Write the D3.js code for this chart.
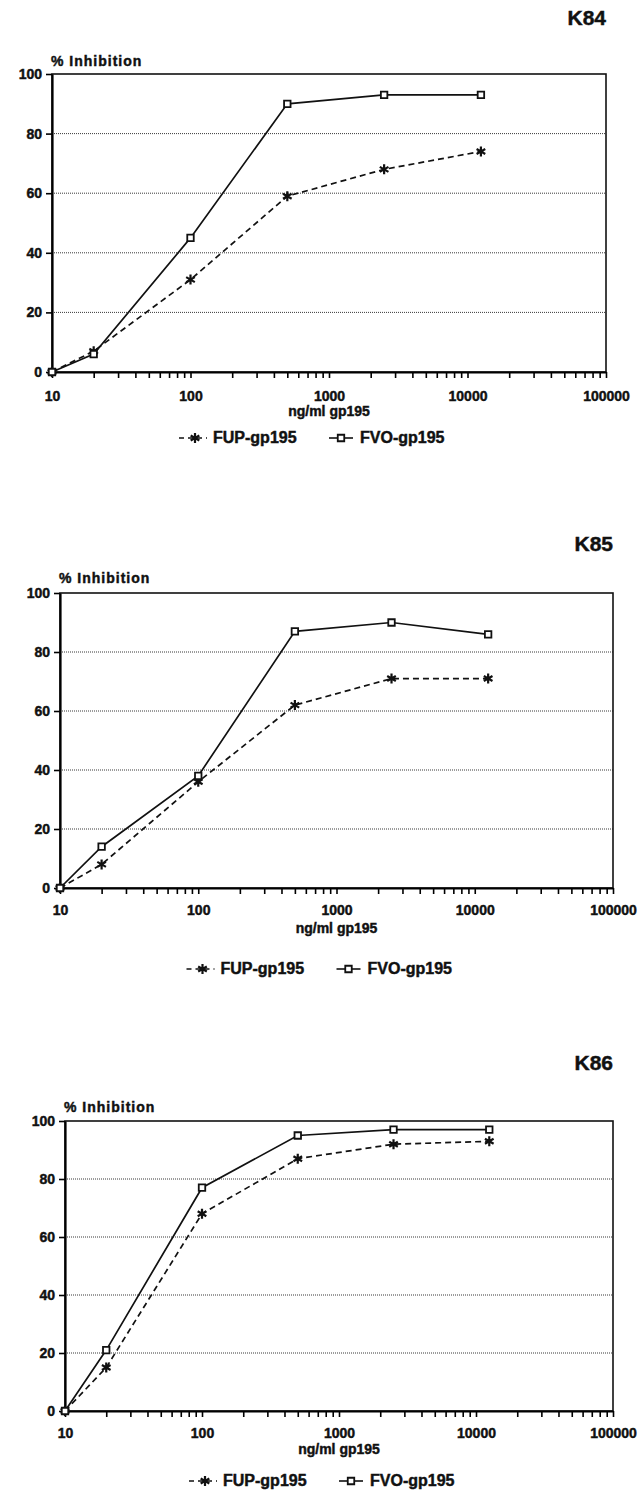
<!DOCTYPE html>
<html>
<head>
<meta charset="utf-8">
<script src="https://cdn.jsdelivr.net/npm/d3@7"></script>
<style>
  body { margin: 0; background: #fff; }
  svg { display: block; }
  text { font-family: "Liberation Sans", Arial, sans-serif; font-weight: bold; fill: #111;
         stroke: #111; stroke-width: 0.45px; }
</style>
</head>
<body>
<svg width="641" height="1493"></svg>
<script>
// concentrations (ng/ml gp195)
var doses = [10, 20, 100, 500, 2500, 12500];

var k84_fup = [0, 7, 31, 59, 68, 74];
var k84_fvo = [0, 6, 45, 90, 93, 93];

var k85_fup = [0, 8, 36, 62, 71, 71];
var k85_fvo = [0, 14, 38, 87, 90, 86];

var k86_fup = [0, 15, 68, 87, 92, 93];
var k86_fvo = [0, 21, 77, 95, 97, 97];

var yTicks = [0, 20, 40, 60, 80, 100];
var xLabels = [10, 100, 1000, 10000, 100000];
var seriesNames = ["FUP-gp195", "FVO-gp195"];

var svg = d3.select("svg");

// layout for each of the three panels
var panels = [
  {name: "K84", fup: k84_fup, fvo: k84_fvo, left: 52, right: 606, top: 74, bottom: 372,
   titleY: 25, yLabY: 66, tickY: 401, xTitleY: 416, legY: 443},
  {name: "K85", fup: k85_fup, fvo: k85_fvo, left: 60, right: 613, top: 593, bottom: 888,
   titleY: 551, yLabY: 583, tickY: 915, xTitleY: 933, legY: 974},
  {name: "K86", fup: k86_fup, fvo: k86_fvo, left: 65, right: 613, top: 1121, bottom: 1411,
   titleY: 1070, yLabY: 1112, tickY: 1438, xTitleY: 1454, legY: 1486}
];

var minorTicks = [];
for (var e = 1; e <= 4; e++) {
  for (var m = 1; m <= 9; m++) minorTicks.push(m * Math.pow(10, e));
}
minorTicks.push(100000);

panels.forEach(drawPanel);

function drawPanel(p) {
  var x = d3.scaleLog().domain([10, 100000]).range([p.left, p.right]);
  var y = d3.scaleLinear().domain([0, 100]).range([p.bottom, p.top]);
  var g = svg.append("g");

  // dotted gridlines
  g.selectAll(".grid")
    .data(yTicks.filter(function(d) { return d > 0 && d < 100; }))
    .enter().append("line")
    .attr("x1", p.left).attr("x2", p.right)
    .attr("y1", function(d) { return y(d); })
    .attr("y2", function(d) { return y(d); })
    .attr("stroke", "#222")
    .attr("stroke-width", 0.9)
    .attr("stroke-dasharray", "1,1");

  // box
  g.append("rect")
    .attr("x", p.left).attr("y", p.top)
    .attr("width", p.right - p.left).attr("height", p.bottom - p.top)
    .attr("fill", "none").attr("stroke", "#111").attr("stroke-width", 1.6);

  // y axis
  var yAxis = g.append("g")
    .attr("transform", "translate(" + p.left + ",0)")
    .call(d3.axisLeft(y).tickValues(yTicks).tickSize(6).tickSizeOuter(0).tickPadding(4));
  yAxis.select(".domain").attr("stroke-width", 2.2);
  yAxis.selectAll(".tick line").attr("stroke-width", 1.6);
  yAxis.selectAll("text").style("font-size", "14px").attr("fill", "#111");

  // x axis
  var xAxis = g.append("g")
    .attr("transform", "translate(0," + p.bottom + ")")
    .call(d3.axisBottom(x).tickValues(minorTicks).tickSize(6).tickSizeOuter(0).tickPadding(14)
      .tickFormat(function(d) { return xLabels.indexOf(d) >= 0 ? d : ""; }));
  xAxis.select(".domain").attr("stroke-width", 2.2);
  xAxis.selectAll(".tick line").attr("stroke-width", 1.6);
  xAxis.selectAll("text").style("font-size", "14px").attr("fill", "#111")
    .attr("dy", null).attr("y", p.tickY - p.bottom);

  // titles
  svg.append("text").attr("x", p.right).attr("y", p.titleY)
    .attr("text-anchor", "end").style("font-size", "21px").text(p.name);
  svg.append("text").attr("x", p.left - 1).attr("y", p.yLabY)
    .style("font-size", "14px").style("letter-spacing", "1px").text("% Inhibition");
  svg.append("text").attr("x", (p.left + p.right) / 2).attr("y", p.xTitleY)
    .attr("text-anchor", "middle").style("font-size", "14px").text("ng/ml gp195");

  var line = d3.line()
    .x(function(d) { return x(d[0]); })
    .y(function(d) { return y(d[1]); });

  var fupPts = doses.map(function(d, i) { return [d, p.fup[i]]; });
  var fvoPts = doses.map(function(d, i) { return [d, p.fvo[i]]; });

  g.append("path").datum(fupPts).attr("d", line)
    .attr("fill", "none").attr("stroke", "#111").attr("stroke-width", 1.7)
    .attr("stroke-dasharray", "6,4");
  g.append("path").datum(fvoPts).attr("d", line)
    .attr("fill", "none").attr("stroke", "#111").attr("stroke-width", 1.7);

  var star = d3.symbol().type(d3.symbolAsterisk).size(70);
  var square = d3.symbol().type(d3.symbolSquare).size(42);

  g.selectAll(".fup").data(fupPts).enter().append("path")
    .attr("transform", function(d) { return "translate(" + x(d[0]) + "," + y(d[1]) + ")"; })
    .attr("d", star).attr("fill", "none").attr("stroke", "#111").attr("stroke-width", 2.2);
  g.selectAll(".fvo").data(fvoPts).enter().append("path")
    .attr("transform", function(d) { return "translate(" + x(d[0]) + "," + y(d[1]) + ")"; })
    .attr("d", square).attr("fill", "#fff").attr("stroke", "#111").attr("stroke-width", 1.8);

  // legend
  var cx = (p.left + p.right) / 2;
  var ly = p.legY - 5;
  var leg = svg.append("g");
  leg.append("line").attr("x1", cx - 150).attr("x2", cx - 122).attr("y1", ly).attr("y2", ly)
    .attr("stroke", "#111").attr("stroke-width", 1.6).attr("stroke-dasharray", "5,4");
  leg.append("path").attr("transform", "translate(" + (cx - 134) + "," + ly + ")")
    .attr("d", star).attr("fill", "none").attr("stroke", "#111").attr("stroke-width", 2.2);
  leg.append("text").attr("x", cx - 116).attr("y", p.legY)
    .style("font-size", "16px").text(seriesNames[0]);
  leg.append("line").attr("x1", cx).attr("x2", cx + 24).attr("y1", ly).attr("y2", ly)
    .attr("stroke", "#111").attr("stroke-width", 1.6);
  leg.append("path").attr("transform", "translate(" + (cx + 12) + "," + ly + ")")
    .attr("d", square).attr("fill", "#fff").attr("stroke", "#111").attr("stroke-width", 1.8);
  leg.append("text").attr("x", cx + 31).attr("y", p.legY)
    .style("font-size", "16px").text(seriesNames[1]);
}
</script>
</body>
</html>
